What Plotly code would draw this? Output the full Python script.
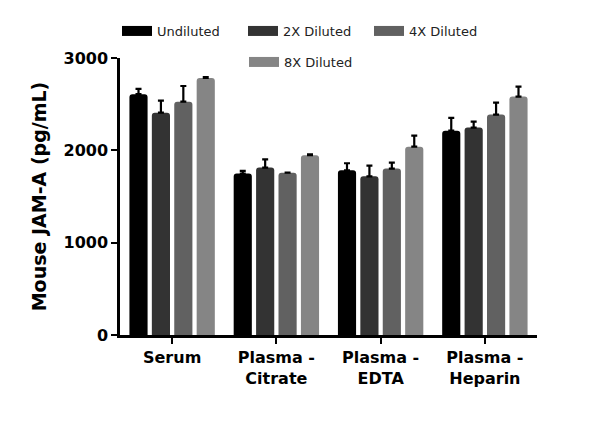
import plotly.graph_objects as go

categories = ["Serum", "Plasma -<br>Citrate", "Plasma -<br>EDTA", "Plasma -<br>Heparin"]
series_names = ["Undiluted", "2X Diluted", "4X Diluted", "8X Diluted"]
undiluted = [2608, 1748, 1784, 2213]
undiluted_err = [57, 30, 76, 138]
diluted_2x = [2408, 1813, 1719, 2246]
diluted_2x_err = [130, 90, 115, 65]
diluted_4x = [2527, 1758, 1802, 2387]
diluted_4x_err = [170, 0, 65, 130]
diluted_8x = [2784, 1947, 2040, 2582]
diluted_8x_err = [8, 10, 119, 108]
y_ticks = [0, 1000, 2000, 3000]

values = [undiluted, diluted_2x, diluted_4x, diluted_8x]
errors = [undiluted_err, diluted_2x_err, diluted_4x_err, diluted_8x_err]
colors = ["#000000", "#333333", "#616161", "#858585"]
legends = ["legend", "legend", "legend", "legend2"]

FONT = "DejaVu Sans"
fig = go.Figure()
for name, vals, errs, col in zip(series_names, values, errors, colors):
    fig.add_trace(go.Bar(
        x=categories, y=vals, name=name, marker_color=col,
        marker_line_width=0, showlegend=False, legendgroup=name,
        error_y=dict(type="data", array=errs, arrayminus=[0] * len(errs),
                     symmetric=False, color="#000000", thickness=2.2, width=3),
    ))
for name, col, lg in zip(series_names, colors, legends):
    fig.add_trace(go.Scatter(
        x=[None], y=[None], mode="lines", name=name, legendgroup=name,
        line=dict(color=col, width=10), legend=lg, hoverinfo="skip",
    ))

legend_common = dict(
    orientation="h", xref="container", yref="container",
    xanchor="left", yanchor="middle",
    font=dict(family=FONT, size=13, color="#222222"),
    bgcolor="rgba(0,0,0,0)", entrywidth=81, entrywidthmode="pixels",
    itemwidth=30, tracegroupgap=0,
)

fig.update_layout(
    width=600, height=424,
    margin=dict(l=120, r=63, t=58, b=89, autoexpand=False),
    paper_bgcolor="white", plot_bgcolor="white",
    barmode="group", bargap=0.14, bargroupgap=0.19, barcornerradius=3,
    font=dict(family=FONT, color="#000000"),
    legend=dict(x=117 / 600, y=1 - 31 / 424, **legend_common),
    legend2=dict(x=244 / 600, y=1 - 62 / 424, **legend_common),
    xaxis=dict(
        type="category", range=[-0.5, 3.5],
        showline=True, linecolor="#000000", linewidth=2.5,
        ticks="outside", ticklen=6, tickwidth=2.2, tickcolor="#000000",
        tickfont=dict(family=FONT, size=16, color="#000000", weight="bold"),
        showgrid=False, zeroline=False,
    ),
    yaxis=dict(
        range=[0, 3000], tickvals=y_ticks, ticktext=[str(t) for t in y_ticks],
        showline=True, linecolor="#000000", linewidth=2.5,
        ticks="outside", ticklen=6, tickwidth=2.2, tickcolor="#000000",
        tickfont=dict(family=FONT, size=16, color="#000000", weight="bold"),
        showgrid=False, zeroline=False,
        title=dict(text="Mouse JAM-A (pg/mL)", standoff=12,
                   font=dict(family=FONT, size=19, color="#000000", weight="bold")),
    ),
)

fig.write_html("out.html")
